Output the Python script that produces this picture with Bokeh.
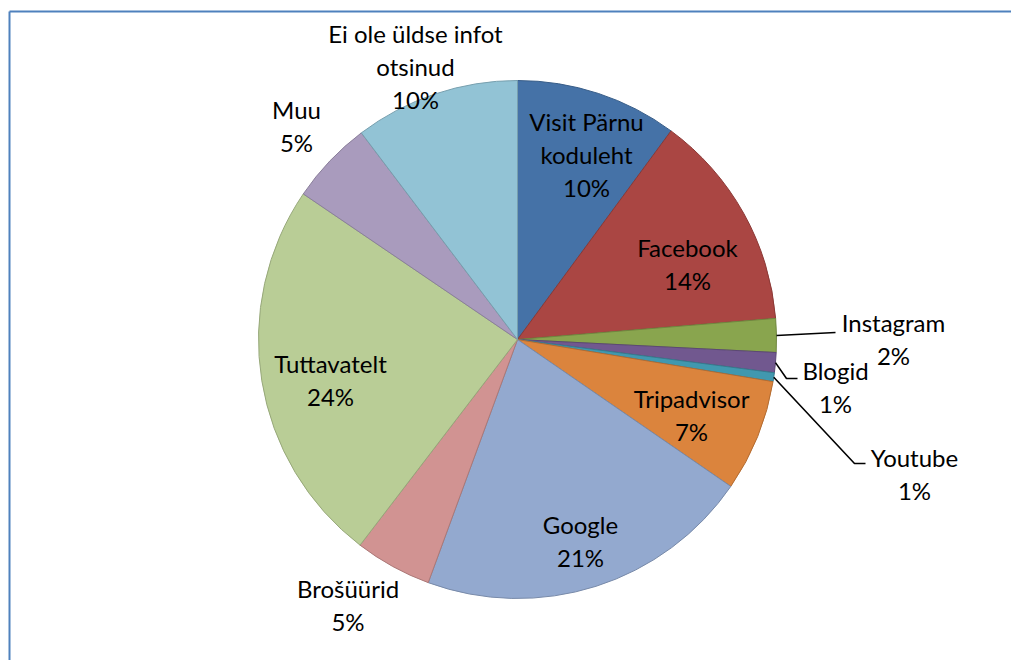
import math
from bokeh.plotting import figure
from bokeh.models import ColumnDataSource, Range1d
from bokeh.core.properties import value
from bokeh.embed import file_html
from bokeh.resources import INLINE

# ---- data ----
categories = ["Visit Pärnu\nkoduleht", "Facebook", "Instagram", "Blogid", "Youtube",
              "Tripadvisor", "Google", "Brošüürid", "Tuttavatelt", "Muu",
              "Ei ole üldse infot\notsinud"]
shares = [10.1, 13.6, 2.1, 1.25, 0.55, 7.0, 21.0, 4.8, 24.1, 5.2, 10.3]
colors = ["#4572A7", "#AA4643", "#89A54E", "#71588F", "#4198AF", "#DB843D",
          "#93A9CF", "#D19392", "#B9CD96", "#A99BBD", "#92C3D5"]

# ---- layout (pixels, y measured downward from the page top) ----
W, H = 1011, 660
CX, CY_IMG, R = 517, 339, 259
FONT = "Lato"
FSIZE = 24
LINE_H = 33
# label block centres as offsets from the pie centre
label_off = [(69, -185), (170, -75.5), (376, -0.5), (318, 47.5), (397, 134),
             (174, 75.5), (63, 201.5), (-169.5, 265.5), (-187, 40), (-221, -214),
             (-102, -273)]
# leader line elbows (offsets from centre), None = no leader line
leaders = [None, None, [(318, -7)], [(269, 39), (280, 39)], [(337, 124), (348, 124)],
           None, None, None, None, None, None]


def Y(img_y):
    return 662 - img_y


def darker(hexc, f=0.82):
    r, g, b = int(hexc[1:3], 16), int(hexc[3:5], 16), int(hexc[5:7], 16)
    return "#%02x%02x%02x" % (int(r * f), int(g * f), int(b * f))


total = sum(shares)
starts, ends, mids = [], [], []
cum = 0.0
for v in shares:
    a0 = math.pi / 2 - 2 * math.pi * cum / total
    cum += v
    a1 = math.pi / 2 - 2 * math.pi * cum / total
    starts.append(a0)
    ends.append(a1)
    mids.append((a0 + a1) / 2)

p = figure(width=W, height=H, output_backend="svg", toolbar_location=None,
           x_range=Range1d(0, W), y_range=Range1d(Y(H), Y(0)),
           min_border=0)
p.axis.visible = False
p.grid.visible = False
p.outline_line_color = None
p.background_fill_color = "white"
p.border_fill_color = "white"

# chart frame: only the left and top edges are inside the window
p.segment(x0=[9, 9], y0=[Y(11), Y(11)], x1=[9, W], y1=[Y(H), Y(11)],
          line_color="#4F81BD", line_width=2)

src = ColumnDataSource(dict(start=starts, end=ends, fill=colors,
                            line=[darker(c) for c in colors]))
p.wedge(x=CX, y=Y(CY_IMG), radius=R, start_angle="start", end_angle="end",
        direction="clock", fill_color="fill", line_color="line", line_width=1,
        source=src)

# leader lines
xs, ys = [], []
for i, el in enumerate(leaders):
    if el is None:
        continue
    m = mids[i]
    px = [CX + R * math.cos(m)]
    py = [Y(CY_IMG) + R * math.sin(m)]
    for dx, dy in el:
        px.append(CX + dx)
        py.append(Y(CY_IMG + dy))
    xs.append(px)
    ys.append(py)
p.multi_line(xs=xs, ys=ys, line_color="black", line_width=1.6)

# labels
tx, ty, tt = [], [], []
for i, name in enumerate(categories):
    lines = name.split("\n") + ["%d%%" % int(shares[i] + 0.5)]
    dx, dy = label_off[i]
    n = len(lines)
    for k, ln in enumerate(lines):
        tx.append(CX + dx)
        ty.append(Y(CY_IMG + dy + (k - (n - 1) / 2) * LINE_H))
        tt.append(ln)
p.text(x=tx, y=ty, text=tt, text_align="center", text_baseline="middle",
       text_font=value(FONT), text_font_size="%dpx" % FSIZE, text_color="black")

open("out.html", "w").write(file_html(p, INLINE))
